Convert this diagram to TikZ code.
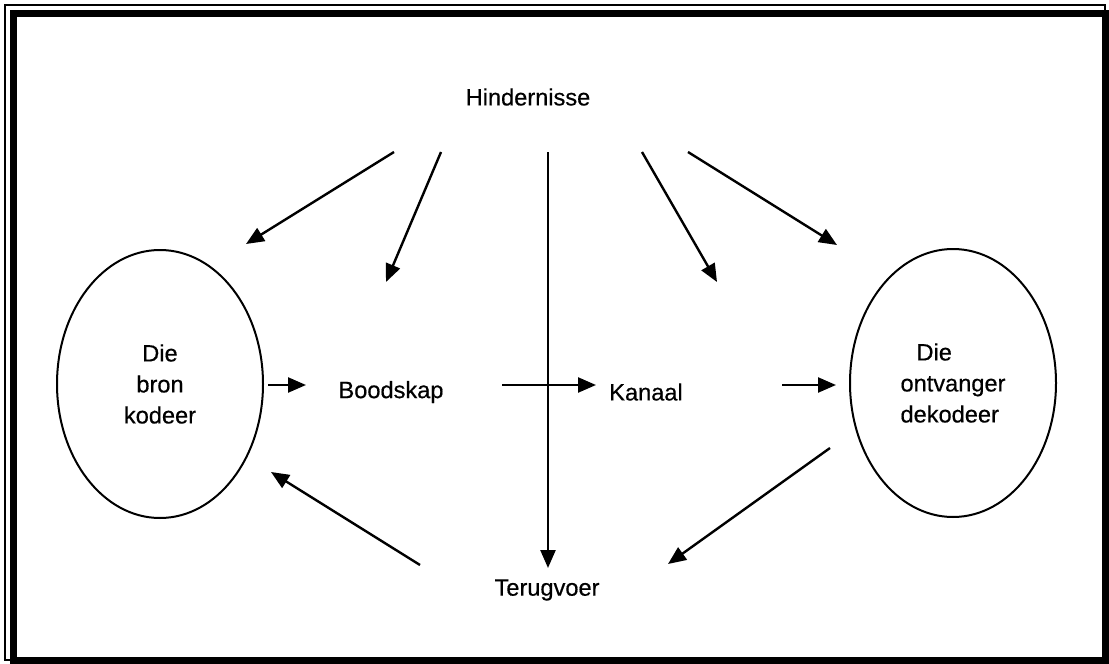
\documentclass[tikz,border=0pt]{standalone}
\usepackage{fontspec}
\setmainfont[FakeBold=0.5]{Liberation Sans}
\usetikzlibrary{arrows.meta,shapes.geometric}
\begin{document}
\begin{tikzpicture}[x=0.5pt,y=-0.5pt,
  lbl/.style={font=\fontsize{11.8}{15.5}\selectfont, align=center, inner sep=0pt},
  oval/.style={draw, line width=1pt, ellipse, inner sep=0pt, minimum width=103pt, minimum height=134pt, font=\fontsize{11.8}{15.5}\selectfont},
  arr/.style={line width=1.2pt, -{Triangle[length=9pt,width=7.5pt]}}]
\useasboundingbox (0,0) rectangle (1109,664);
% frame
\draw[line width=0.6pt] (5,5) rectangle (1105,660);
\draw[line width=3.4pt] (13.5,13.5) rectangle (1105.5,660.5);
% nodes
\node[lbl] (hin) at (528,97) {Hindernisse};
\node[oval, align=center] (src) at (160,384) {Die\\bron\\kodeer};
\node[oval, align=left] (dst) at (953,383) {\hspace*{8pt}Die\\ontvanger\\dekodeer};
\node[lbl] (msg) at (391,392) {Boodskap};
\node[lbl] (kan) at (646,392) {Kanaal};
\node[lbl] (fb) at (547,590) {Terugvoer};
% free ends
\coordinate (h1) at (394,152); \coordinate (t1) at (246,244);
\coordinate (h2) at (441,152); \coordinate (t2) at (386,282);
\coordinate (h3) at (548,152); \coordinate (t3) at (548,568);
\coordinate (h4) at (642,152); \coordinate (t4) at (717,282);
\coordinate (h5) at (688,152); \coordinate (t5) at (837,245);
\coordinate (a1) at (268,385); \coordinate (b1) at (306,385);
\coordinate (a2) at (502,385); \coordinate (b2) at (596,385);
\coordinate (a3) at (782,385); \coordinate (b3) at (836,385);
\coordinate (f1) at (420,565); \coordinate (g1) at (271,472);
\coordinate (f2) at (830,448); \coordinate (g2) at (668,564);
% connectors
\draw[arr] (h1) -- (t1);
\draw[arr] (h2) -- (t2);
\draw[arr] (h3) -- (t3);
\draw[arr] (h4) -- (t4);
\draw[arr] (h5) -- (t5);
\draw[arr] (a1) -- (b1);
\draw[arr] (a2) -- (b2);
\draw[arr] (a3) -- (b3);
\draw[arr] (f1) -- (g1);
\draw[arr] (f2) -- (g2);
\end{tikzpicture}
\end{document}
